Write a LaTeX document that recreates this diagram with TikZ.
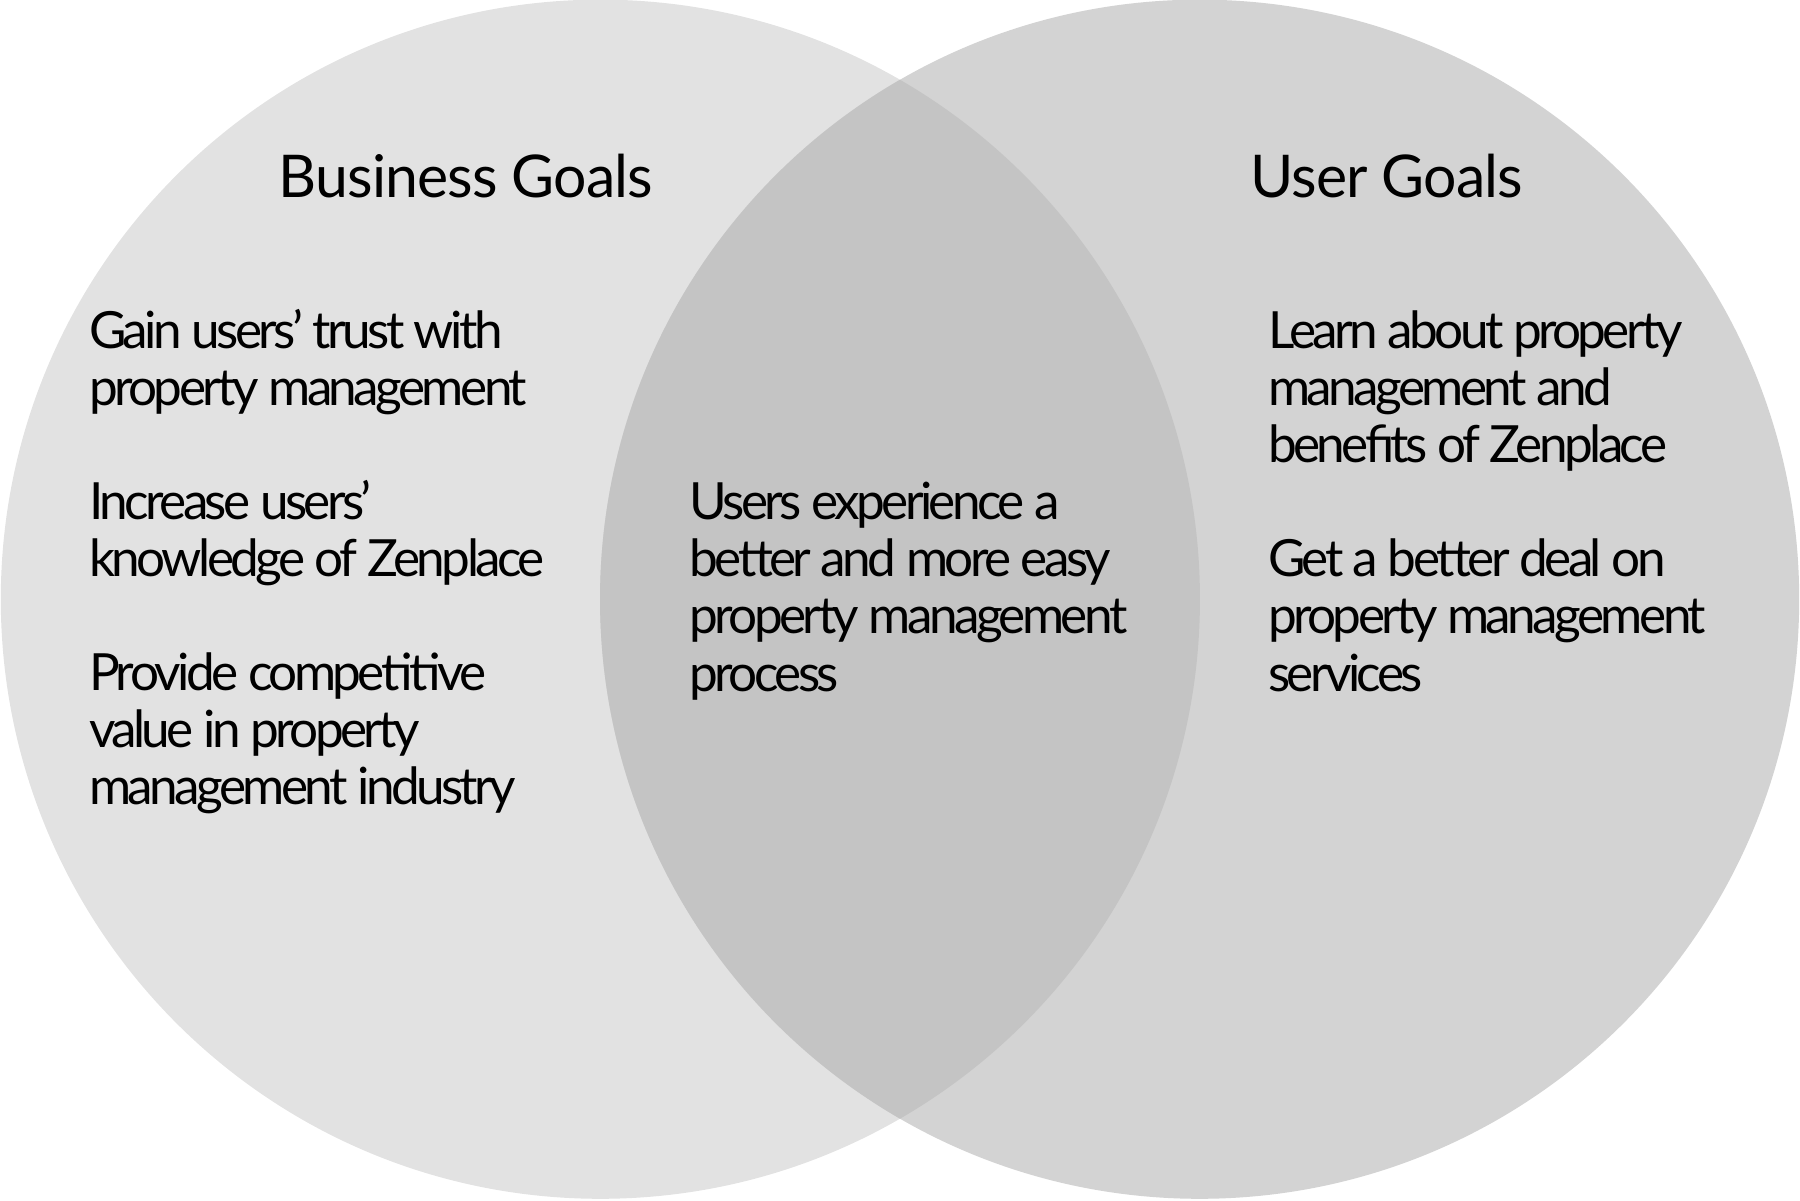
\documentclass[tikz,border=0pt]{standalone}
\usepackage{fontspec}
\setmainfont{Lato}
\newfontfamily\goalfont[LetterSpace=-7]{Lato}
\newfontfamily\titlefont[LetterSpace=-1.5]{Lato}
\definecolor{bizgray}{HTML}{E2E2E2}
\definecolor{usergray}{HTML}{D3D3D3}
\definecolor{bothgray}{HTML}{C4C4C4}
\begin{document}
\begin{tikzpicture}[x=0.01cm, y=-0.01cm,
        title/.style={anchor=base, inner sep=0pt, font=\titlefont\fontsize{14.6pt}{18pt}\selectfont},
        goals/.style={anchor=base west, inner sep=0pt, align=left, font=\goalfont\fontsize{12.7pt}{14.14pt}\selectfont}]
        \useasboundingbox (0, 0) rectangle (1568, 1046);
        % the two circles
        \fill[color=bizgray] (523, 522) circle (5.22cm);
        \fill[color=usergray] (1045, 522) circle (5.22cm);
        \begin{scope}
            \clip (523, 522) circle (5.22cm);
            \fill[color=bothgray] (1045, 522) circle (5.22cm);
        \end{scope}
        % titles
        \node[title] (biztitle) at (406, 172) {Business Goals};
        \node[title] (usertitle) at (1208, 172) {User Goals};
        % goals, placed at the baseline of their last line
        \node[goals] (bizgoals) at (77, 701) {Gain users’ trust with\\property management\\[14.14pt]Increase users’\\knowledge of Zenplace\\[14.14pt]Provide competitive\\value in property\\management industry};
        \node[goals] (bothgoals) at (600, 602) {Users experience a\\better and more easy\\property management\\process};
        \node[goals] (usergoals) at (1104, 602) {Learn about property\\management and\\benefits of Zenplace\\[14.14pt]Get a better deal on\\property management\\services};
    \end{tikzpicture}
\end{document}
